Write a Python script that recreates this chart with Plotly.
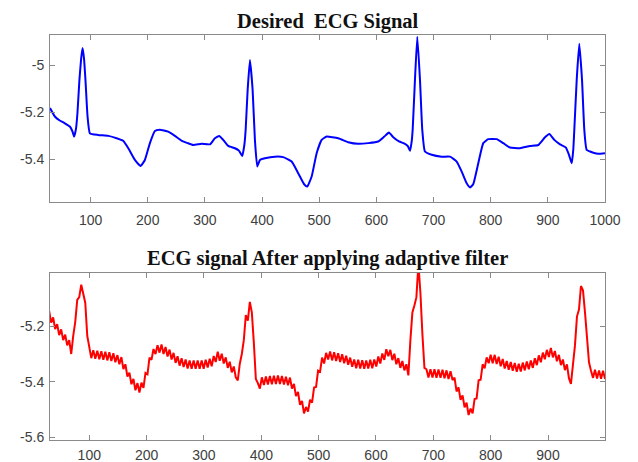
import numpy as np
import plotly.graph_objects as go
from plotly.subplots import make_subplots

# ---- Data: desired ECG signal ----
desired_x = [29, 37.5, 46, 55, 63.7, 68, 71.3, 74.5, 77, 80.5, 83.5, 86, 88.5, 91, 94.7, 98.8,
             113, 131, 145.5, 157, 166, 177.5, 187.5, 195, 203.8, 212.5, 221, 235.8, 247.5, 259,
             270, 279.6, 294, 308.8, 317.5, 325, 332, 340.8, 352.5, 359.5, 365.3, 369, 371.3,
             374.8, 378.8, 383.5, 387.5, 391.6, 396.3, 405, 422.5, 437, 451.8, 463.3, 473.3, 479,
             486.8, 495.5, 504.3, 513, 533.3, 550.8, 568.3, 585.8, 603.3, 613.8, 622, 629.6,
             639.6, 650, 655, 658.8, 661.5, 663.5, 667.5, 671.6, 676.3, 680.3, 685, 696.8, 714.3,
             728.8, 740.5, 749.3, 758, 764, 769.6, 778.3, 787, 795.8, 810.5, 822, 833.8, 851.3,
             868.8, 883.3, 895, 902.6, 911.3, 921.3, 931.3, 937, 941.8, 944.5, 946.3, 950.5, 955,
             959.8, 963.8, 968, 979.6, 988.3, 1000]
desired_y = [-5.182, -5.218, -5.235, -5.247, -5.261, -5.28, -5.304, -5.27, -5.204, -5.06, -4.97,
             -4.925, -4.97, -5.06, -5.218, -5.29,
             -5.297, -5.301, -5.311, -5.322, -5.354, -5.404, -5.43, -5.404, -5.332, -5.28, -5.275,
             -5.283, -5.301, -5.321,
             -5.332, -5.34, -5.335, -5.337, -5.311, -5.301, -5.318, -5.344, -5.354, -5.364,
             -5.387, -5.34, -5.275,
             -5.104, -4.976, -5.104, -5.318, -5.432, -5.404, -5.397, -5.39, -5.392, -5.411,
             -5.461, -5.507, -5.518,
             -5.475, -5.375, -5.318, -5.304, -5.311, -5.328, -5.335, -5.332, -5.325, -5.304,
             -5.287, -5.307,
             -5.325, -5.335, -5.345, -5.365, -5.33, -5.275, -5.061, -4.876, -5.061, -5.275,
             -5.368, -5.382, -5.39,
             -5.39, -5.411, -5.454, -5.504, -5.522, -5.507, -5.418, -5.332, -5.315, -5.315,
             -5.332, -5.351, -5.354,
             -5.344, -5.34, -5.307, -5.293, -5.318, -5.337, -5.35, -5.382, -5.418, -5.36,
             -5.275, -5.061, -4.907,
             -5.061, -5.275, -5.361, -5.373, -5.378, -5.375]

# ---- Data: ECG after adaptive filter (samples every 3.5 from 30) ----
filtered_start = 30
filtered_step = 3.5
filtered_y = [
    -5.145, -5.187, -5.168, -5.210, -5.192, -5.232, -5.211, -5.250, -5.230, -5.269,
    -5.250, -5.300, -5.235, -5.185, -5.105, -5.095, -5.050, -5.080, -5.115, -5.235,
    -5.270, -5.315, -5.286, -5.317, -5.288, -5.319, -5.290, -5.321, -5.292, -5.323,
    -5.294, -5.325, -5.297, -5.330, -5.304, -5.337, -5.311, -5.354, -5.337, -5.381,
    -5.367, -5.409, -5.390, -5.431, -5.405, -5.439, -5.403, -5.422, -5.368, -5.373,
    -5.313, -5.321, -5.282, -5.300, -5.268, -5.295, -5.266, -5.300, -5.275, -5.309,
    -5.284, -5.320, -5.296, -5.332, -5.308, -5.342, -5.315, -5.347, -5.320, -5.352,
    -5.323, -5.353, -5.323, -5.353, -5.323, -5.353, -5.323, -5.353, -5.321, -5.349,
    -5.317, -5.344, -5.307, -5.329, -5.292, -5.324, -5.299, -5.334, -5.312, -5.350,
    -5.328, -5.366, -5.345, -5.384, -5.395, -5.335, -5.300, -5.250, -5.160, -5.180,
    -5.112, -5.150, -5.260, -5.390, -5.405, -5.425, -5.384, -5.412, -5.381, -5.410,
    -5.379, -5.409, -5.378, -5.408, -5.377, -5.408, -5.379, -5.410, -5.382, -5.413,
    -5.385, -5.425, -5.408, -5.452, -5.437, -5.483, -5.469, -5.514, -5.491, -5.508,
    -5.465, -5.475, -5.421, -5.419, -5.360, -5.364, -5.313, -5.334, -5.296, -5.320,
    -5.291, -5.323, -5.294, -5.325, -5.297, -5.329, -5.301, -5.333, -5.306, -5.339,
    -5.313, -5.346, -5.320, -5.351, -5.321, -5.352, -5.322, -5.353, -5.323, -5.352,
    -5.321, -5.351, -5.320, -5.345, -5.309, -5.334, -5.298, -5.321, -5.283, -5.308,
    -5.285, -5.322, -5.299, -5.337, -5.315, -5.350, -5.325, -5.359, -5.337, -5.377,
    -5.250, -5.150, -5.125, -5.095, -4.975, -5.080, -5.230, -5.350, -5.355, -5.385,
    -5.355, -5.385, -5.355, -5.386, -5.356, -5.386, -5.357, -5.387, -5.359, -5.390,
    -5.362, -5.394, -5.385, -5.435, -5.420, -5.465, -5.449, -5.492, -5.475, -5.520,
    -5.497, -5.514, -5.462, -5.460, -5.395, -5.393, -5.337, -5.352, -5.312, -5.333,
    -5.303, -5.333, -5.303, -5.336, -5.310, -5.344, -5.318, -5.352, -5.325, -5.357,
    -5.329, -5.360, -5.332, -5.364, -5.335, -5.363, -5.331, -5.359, -5.327, -5.355,
    -5.323, -5.350, -5.315, -5.340, -5.305, -5.330, -5.295, -5.319, -5.285, -5.311,
    -5.278, -5.312, -5.289, -5.326, -5.303, -5.340, -5.320, -5.358, -5.337, -5.387,
    -5.408, -5.340, -5.270, -5.165, -5.140, -5.055, -5.070, -5.150, -5.235, -5.330,
    -5.360, -5.386, -5.357, -5.388, -5.359, -5.389, -5.360, -5.390,
]
filtered_x = filtered_start + filtered_step * np.arange(len(filtered_y))

# ---- Axis ticks ----
x_ticks = [100, 200, 300, 400, 500, 600, 700, 800, 900, 1000]
top_y_ticks = [-5.0, -5.2, -5.4]
top_y_text = ["-5", "-5.2", "-5.4"]
bot_y_ticks = [-5.2, -5.4, -5.6]
bot_y_text = ["-5.2", "-5.4", "-5.6"]

titles = ["Desired&nbsp;&nbsp;ECG Signal", "ECG signal After applying adaptive filter"]

fig = make_subplots(rows=2, cols=1)
fig.add_trace(go.Scatter(x=desired_x, y=desired_y, mode="lines",
                         line=dict(color="#0000ff", width=2, shape="spline", smoothing=0.4),
                         showlegend=False), row=1, col=1)
fig.add_trace(go.Scatter(x=filtered_x, y=filtered_y, mode="lines",
                         line=dict(color="#ff0000", width=2),
                         showlegend=False), row=2, col=1)

axis_common = dict(showgrid=False, zeroline=False, showline=True, linecolor="#8a8a8a",
                   linewidth=1, mirror="ticks", ticks="inside", ticklen=5, tickcolor="#8a8a8a",
                   automargin=False,
                   tickfont=dict(family="Liberation Sans, Arial", size=14, color="#404040"))

fig.update_xaxes(**axis_common, tickvals=x_ticks)
fig.update_yaxes(**axis_common, ticklabelstandoff=2)

fig.update_layout(
    width=638, height=462,
    margin=dict(l=50, r=33, t=35, b=22),
    plot_bgcolor="white", paper_bgcolor="white",
    xaxis=dict(range=[29, 1000], domain=[0, 1], ticklabelstandoff=5),
    xaxis2=dict(range=[31.5, 999.4], domain=[0, 1], ticklabelstandoff=2),
    yaxis=dict(range=[-5.584, -4.869], domain=[0.5877, 1], tickvals=top_y_ticks, ticktext=top_y_text),
    yaxis2=dict(range=[-5.61, -5.007], domain=[0, 0.413], tickvals=bot_y_ticks, ticktext=bot_y_text),
)

fig.add_annotation(text="<b>" + titles[0] + "</b>", xref="paper", yref="paper",
                   x=0.5, y=1, yshift=14, yanchor="middle", showarrow=False,
                   font=dict(family="Liberation Serif, Times New Roman", size=20.5, color="#111111"))
fig.add_annotation(text="<b>" + titles[1] + "</b>", xref="paper", yref="paper",
                   x=0.5, y=0.413, yshift=14, yanchor="middle", showarrow=False,
                   font=dict(family="Liberation Serif, Times New Roman", size=20.5, color="#111111"))

fig.write_html("out.html")
